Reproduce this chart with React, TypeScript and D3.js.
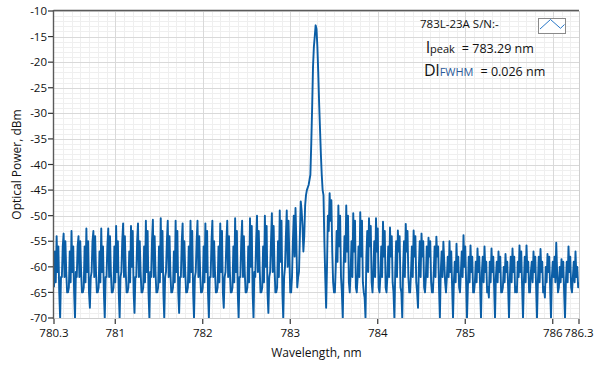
import React from 'react';
import * as d3 from 'd3';

// Spectrum sampled on a uniform wavelength grid (nm), power in dBm
const lambdaStart = 780.3;
const lambdaStep = 0.01;
const powerDbm: number[] = [
  // 780.30 -> 783.09 : side-mode comb left of the peak
  -64, -57, -63, -54, -61, -56, -65, -70, -62,
  -62, -56, -53.5, -62, -55, -61, -65, -65,
  -64, -57, -63, -53, -61, -56, -65, -70, -61,
  -62, -56, -54, -62, -55, -61, -65, -65,
  -64, -56, -63, -52.5, -61, -55, -65, -68, -62,
  -61, -55, -53, -62, -54, -61, -65, -65,
  -64, -57, -63, -52.5, -61, -56, -65, -70, -62,
  -62, -56, -52.5, -62, -54, -61, -65, -65,
  -64, -56, -63, -52, -61, -55, -65, -70, -62,
  -61, -55, -51.5, -62, -54, -61, -65, -65,
  -64, -57, -63, -52, -60, -53, -65, -69, -62,
  -62, -55, -51.5, -62, -55, -61, -65, -65,
  -64, -56, -63, -51, -61, -53, -65, -70, -61,
  -62, -55, -50.8, -62, -54, -61, -65, -65,
  -64, -56, -63, -50.5, -61, -53, -65, -70, -62,
  -61, -55, -51, -62, -54, -61, -65, -65,
  -64, -57, -63, -51, -61, -53, -65, -69, -62,
  -62, -55, -51.5, -62, -55, -61, -65, -65,
  -64, -56, -63, -51, -61, -53, -65, -70, -62,
  -61, -55, -51, -62, -54, -61, -65, -65,
  -64, -56, -63, -51.5, -61, -53, -65, -70, -62,
  -62, -55, -51, -62, -55, -61, -65, -65,
  -64, -56, -63, -51.5, -61, -53, -65, -68, -62,
  -61, -55, -51, -62, -54, -61, -65, -65,
  -64, -56, -63, -50.5, -61, -53, -65, -70, -62,
  -62, -55, -51, -62, -54, -61, -65, -65,
  -64, -56, -63, -50.5, -60, -52, -65, -70, -61,
  -62, -55, -50, -61, -53, -60, -65, -65,
  -64, -56, -63, -50, -60, -52, -65, -69, -62,
  -61, -55, -49.5, -61, -52, -60, -65, -65,
  -64, -55, -62, -49, -59, -51, -65, -70, -62,
  -60, -54, -49, -60, -51, -58, -65, -65,
  -62, -55, -50, -58, -48.5, -55, -64, -62,
  // 783.10 -> 783.49 : main lasing peak
  -61, -54, -47.2, -49, -52, -57, -54, -48, -46, -45, -44.5, -44, -43, -42, -36, -29, -21, -17, -15, -12.8,
  -13.5, -17, -22, -28, -33, -38, -42, -45, -46, -55, -62, -68, -60, -50, -53, -45.6, -51, -47, -57, -63,
  // 783.50 -> 784.70 : side-mode comb right of the peak
  -65, -65, -60, -53, -59, -48, -56, -50,
  -62, -65, -70, -60, -54, -59, -48, -57, -50,
  -63, -65, -61, -55, -62, -49.5, -57, -51, -64,
  -65, -62, -56, -62, -49.3, -58, -51, -63, -65,
  -66, -70, -58, -53, -61, -50.5, -56, -52,
  -63, -65, -61, -55, -62, -50.5, -57, -52.5,
  -64, -65, -62, -56, -62, -51.2, -58, -53, -64,
  -65, -62, -56, -62, -52.3, -58, -54, -63, -65,
  -70, -61, -55, -62, -52.9, -57, -54, -64,
  -65, -70, -60, -55, -62, -51.6, -57, -53, -62,
  -65, -65, -61, -56, -62, -52.9, -58, -54, -63,
  -65, -68, -60, -55, -62, -53.5, -58, -55, -64,
  -65, -62, -56, -62, -54.3, -58, -55, -63,
  -65, -65, -61, -56, -62, -54.1, -58, -56, -64,
  // 784.71 -> 786.30 : noisy tail
  -70, -61, -57, -62, -55.1, -59, -63, -65,
  -62, -58, -62, -55, -61, -57, -64, -70,
  -63, -59, -63, -55.5, -61, -58, -64, -65,
  -61, -57, -62, -53.8, -60, -56, -63, -70,
  -64, -58, -63, -55.8, -61, -58, -65, -65,
  -63, -59, -63, -56.4, -61, -58, -64, -70,
  -61, -58, -63, -56, -61, -59, -65, -64,
  -66, -59, -63, -56.4, -61, -58, -64, -70,
  -62, -59, -63, -57, -61, -58, -65, -65,
  -64, -60, -63, -57.5, -61, -59, -64, -70,
  -62, -58, -63, -56.4, -61, -58, -65, -64,
  -65, -59, -62, -55.8, -61, -57, -64, -70,
  -63, -58, -63, -55.8, -61, -59, -65, -65,
  -61, -59, -63, -57, -61, -58, -64, -70,
  -63, -58, -63, -56.5, -61, -59, -65, -64,
  -66, -60, -63, -57.5, -61, -58, -64, -70,
  -62, -59, -62, -58, -63, -55.3, -61, -65,
  -64, -60, -63, -58.5, -62, -59, -65, -70,
  -63, -59, -63, -56, -61, -58, -64, -65,
  -62, -59, -63, -57, -62, -60, -64, -63,
];

const xDomain = [780.3, 786.3];
const yDomain = [-70, -10];
const xTicks = [780.3, 781, 782, 783, 784, 785, 786, 786.3];
const xTickLabels = ['780.3', '781', '782', '783', '784', '785', '786', '786.3'];
const yTicks = [-10, -15, -20, -25, -30, -35, -40, -45, -50, -55, -60, -65, -70];
const yTickLabels = ['-10', '-15', '-20', '-25', '-30', '-35', '-40', '-45', '-50', '-55', '-60', '-65', '-70'];
const xTitle = 'Wavelength, nm';
const yTitle = 'Optical Power, dBm';
const legendName = '783L-23A S/N:-';
const peakValue = '= 783.29 nm';
const fwhmValue = '= 0.026 nm';

const FONT = '"Open Sans", "Noto Sans", sans-serif';
const TRACE = '#0b5ea6';

export default function App() {
  const W = 599, H = 370;
  const L = 54, R = 579, T = 11, B = 318;
  const x = d3.scaleLinear().domain(xDomain).range([L, R]);
  const y = d3.scaleLinear().domain(yDomain).range([B, T]);

  const pts = powerDbm.map((p, i) => [lambdaStart + i * lambdaStep, p] as [number, number]);
  const line = d3.line<[number, number]>().x(d => x(d[0])).y(d => y(d[1]));
  const path = line(pts) || '';

  const xMinor = d3.range(780.4, 786.25, 0.1);
  const yMinor = d3.range(-69, -10, 1);
  const xMajor = [781, 782, 783, 784, 785, 786];

  return (
    <svg width={W} height={H} style={{ position: 'absolute', left: 0, top: 0, background: '#fff' }}>
      <defs>
        <clipPath id="plotclip">
          <rect x={L} y={T} width={R - L} height={B - T} />
        </clipPath>
      </defs>
      <rect x={0} y={0} width={W} height={H} fill="#fff" />
      {xMinor.map((v, i) => (
        <line key={'xm' + i} x1={Math.round(x(v)) + 0.5} x2={Math.round(x(v)) + 0.5} y1={T} y2={B} stroke="#efefef" strokeWidth={1} />
      ))}
      {yMinor.map((v, i) => (
        <line key={'ym' + i} x1={L} x2={R} y1={Math.round(y(v)) + 0.5} y2={Math.round(y(v)) + 0.5} stroke="#efefef" strokeWidth={1} />
      ))}
      {xMajor.map((v, i) => (
        <line key={'xM' + i} x1={Math.round(x(v)) + 0.5} x2={Math.round(x(v)) + 0.5} y1={T} y2={B} stroke="#d9d9d9" strokeWidth={1} />
      ))}
      {yTicks.map((v, i) => (
        <line key={'yM' + i} x1={L} x2={R} y1={Math.round(y(v)) + 0.5} y2={Math.round(y(v)) + 0.5} stroke="#d9d9d9" strokeWidth={1} />
      ))}
      <line x1={R + 0.5} x2={R + 0.5} y1={T} y2={B + 1} stroke="#cfcfcf" />
      <line x1={L} x2={R} y1={B + 0.5} y2={B + 0.5} stroke="#cfcfcf" />
      <path d={path} fill="none" stroke={TRACE} strokeWidth={1.9} strokeLinejoin="round" clipPath="url(#plotclip)" />
      <line x1={L - 0.5} x2={R} y1={T - 0.5} y2={T - 0.5} stroke="#5a5a5a" strokeWidth={1.4} />
      <line x1={L - 0.5} x2={L - 0.5} y1={T - 1} y2={B + 1} stroke="#5a5a5a" strokeWidth={1.4} />
      {yTicks.map((v, i) => (
        <g key={'yt' + i}>
          <line x1={L - 6} x2={L - 1} y1={y(v)} y2={y(v)} stroke="#333" strokeWidth={1.2} />
          <text x={L - 7} y={y(v)} dy="0.36em" textAnchor="end" fontFamily={FONT} fontSize={11.5} fill="#111">{yTickLabels[i]}</text>
        </g>
      ))}
      {xTicks.map((v, i) => (
        <g key={'xt' + i}>
          <line x1={x(v)} x2={x(v)} y1={B + 1} y2={B + 6} stroke="#333" strokeWidth={1.2} />
          <text x={x(v)} y={B + 19} textAnchor="middle" fontFamily={FONT} fontSize={11.5} fill="#111">{xTickLabels[i]}</text>
        </g>
      ))}
      <text x={(L + R) / 2} y={357} textAnchor="middle" fontFamily={FONT} fontSize={12} fill="#111">{xTitle}</text>
      <text transform={`translate(21, ${(T + B) / 2}) rotate(-90)`} textAnchor="middle" fontFamily={FONT} fontSize={12} fill="#111">{yTitle}</text>
      <text x={420} y={28} fontFamily={FONT} fontSize={11.5} fill="#111">{legendName}</text>
      <rect x={538.5} y={18.5} width={27} height={15} fill="#fff" stroke="#8a8a8a" strokeWidth={1} />
      <polyline points="540,29 550.5,19.5 560.5,28.3 564.5,24.5" fill="none" stroke="#2a78c8" strokeWidth={1} />
      <text x={426} y={53} fontFamily={FONT} fill="#111">
        <tspan fontSize={16}>l</tspan>
        <tspan fontSize={11}>peak</tspan>
        <tspan fontSize={12.5} dx={7}>{peakValue}</tspan>
      </text>
      <text x={424} y={76} fontFamily={FONT} fill="#111">
        <tspan fontSize={16}>Dl</tspan>
        <tspan fontSize={11} fill="#2a5a9a">FWHM</tspan>
        <tspan fontSize={12.5} dx={7}>{fwhmValue}</tspan>
      </text>
    </svg>
  );
}
